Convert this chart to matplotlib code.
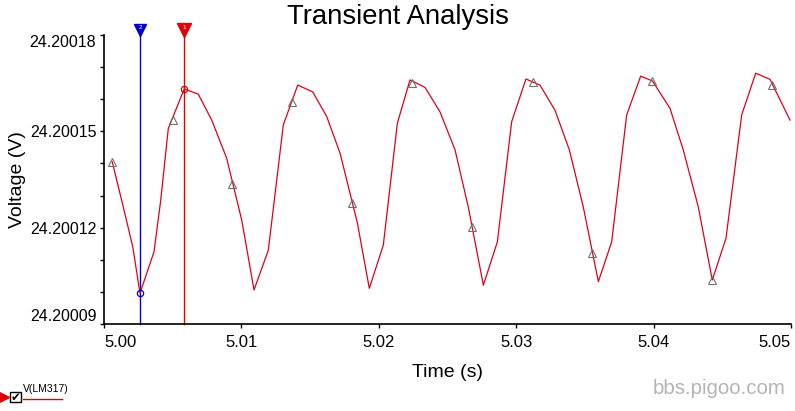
import matplotlib
matplotlib.use("Agg")
import matplotlib.pyplot as plt
from matplotlib.lines import Line2D
from matplotlib.patches import Rectangle
import matplotlib.transforms as mtransforms

plt.rcParams['font.family'] = ['Liberation Sans', 'DejaVu Sans']

# V(LM317) simulation points
time_s = [5.00060, 5.00140, 5.00209, 5.00262, 5.00364, 5.00413, 5.00468, 5.00584,
          5.00686, 5.00784, 5.00893, 5.01002, 5.01092, 5.01196, 5.01305, 5.01410,
          5.01519, 5.01621, 5.01718, 5.01844, 5.01931, 5.02033, 5.02135, 5.02227,
          5.02336, 5.02445, 5.02555, 5.02651, 5.02761, 5.02863, 5.02967, 5.03071,
          5.03173, 5.03282, 5.03387, 5.03488, 5.03598, 5.03695, 5.03804, 5.03906,
          5.03991, 5.04119, 5.04216, 5.04325, 5.04427, 5.04527, 5.04641, 5.04743,
          5.04847, 5.04993]
volt_v = [24.2001405, 24.2001265, 24.2001141, 24.2000996, 24.2001125, 24.2001286,
          24.2001509, 24.2001632, 24.2001616, 24.2001535, 24.2001416, 24.2001224,
          24.2001006, 24.2001130, 24.2001520, 24.2001644, 24.2001623, 24.2001546,
          24.2001432, 24.2001215, 24.2001011, 24.2001146, 24.2001525, 24.2001660,
          24.2001637, 24.2001561, 24.2001442, 24.2001265, 24.2001021, 24.2001156,
          24.2001530, 24.2001663, 24.2001644, 24.2001566, 24.2001442, 24.2001265,
          24.2001032, 24.2001156, 24.2001551, 24.2001672, 24.2001657, 24.2001572,
          24.2001442, 24.2001265, 24.2001037, 24.2001167, 24.2001551, 24.2001681,
          24.2001662, 24.2001535]

# triangle markers on the trace
mark_t = [5.00060, 5.00500, 5.00934, 5.01371, 5.01803, 5.02244,
          5.02681, 5.03120, 5.03554, 5.03991, 5.04427, 5.04864]
mark_v = [24.2001405, 24.2001535, 24.2001336, 24.2001592, 24.2001276, 24.2001651,
          24.2001203, 24.2001653, 24.2001120, 24.2001657, 24.2001037, 24.2001644]

# cursors
cursor_t = [5.00584, 5.00262]
cursor_v = [24.2001632, 24.2000996]
cursor_names = ['1', '2']
cursor_colors = ['#e00000', '#0000c8']

x_ticks = [5.00, 5.01, 5.02, 5.03, 5.04, 5.05]
x_labels = ['5.00', '5.01', '5.02', '5.03', '5.04', '5.05']
y_ticks = [24.20009 + i * 0.00001 for i in range(10)]
y_labels = ['24.20009', '', '', '24.20012', '', '', '24.20015', '', '', '24.20018']

line_color = '#e0001b'

fig = plt.figure(figsize=(7.95, 4.11), dpi=100)
ax = fig.add_axes([104 / 795, 87 / 411, 687 / 795, 289 / 411])

ax.plot(time_s, volt_v, color=line_color, lw=0.9, zorder=3)
ax.plot(mark_t, mark_v, ls='none', marker='^', markersize=5.5, mfc='none',
        mec='#707070', mew=0.8, zorder=4)

trans = mtransforms.blended_transform_factory(ax.transData, ax.transAxes)
sizes = [10, 8]
for t, v, name, c, s in zip(cursor_t, cursor_v, cursor_names, cursor_colors, sizes):
    ax.plot([t, t], [0, 1.02], color=c, lw=1.0, transform=trans, clip_on=False, zorder=2)
    ax.plot([t], [1.018], marker='v', markersize=s, color=c, transform=trans,
            clip_on=False, zorder=5)
    ax.text(t, 1.025, name, color='white', fontsize=4.5, ha='center', va='center',
            transform=trans, clip_on=False, zorder=6)
    ax.plot([t], [v], marker='o', markersize=4.5, mfc='none', mec=c, mew=0.9, zorder=6)

ax.set_xlim(5.00, 5.05)
ax.set_ylim(24.20009, 24.20018)
ax.set_xticks(x_ticks)
ax.set_xticklabels(x_labels)
ax.set_yticks(y_ticks)
ax.set_yticklabels(y_labels)

for side in ['top', 'right']:
    ax.spines[side].set_visible(False)
for side in ['left', 'bottom']:
    ax.spines[side].set_linewidth(1.2)
ax.tick_params(axis='both', direction='out', length=3, width=1.0, labelsize=12,
               pad=5)
ax.tick_params(axis='y', labelsize=11.5, pad=2.5)

xl = ax.get_xticklabels()
xl[0].set_ha('left')
xl[-1].set_ha('right')
yl = ax.get_yticklabels()
yl[0].set_va('bottom')
yl[-1].set_va('top')

fig.text(0.5, 1 - 17 / 411, 'Transient Analysis', fontsize=19.8, ha='center',
         va='center')
ax.set_xlabel('Time (s)', fontsize=14, labelpad=10)
ax.set_ylabel('Voltage (V)', fontsize=14)
ax.yaxis.set_label_coords(-0.1135, 0.5)

# legend box at bottom-left
fig.add_artist(Line2D([3 / 795], [1 - 397 / 411], marker='>', markersize=8,
                      color='#e00000', transform=fig.transFigure))
fig.add_artist(Rectangle((10 / 795, 1 - 402 / 411), 10.5 / 795, 10.5 / 411, fill=False,
                         lw=1.0, ec='black', transform=fig.transFigure))
fig.text(15.5 / 795, 1 - 397 / 411, '\u2714', fontsize=8.5, ha='center', va='center',
         family='DejaVu Sans')
fig.text(23 / 795, 1 - 389 / 411, 'V(LM317)', fontsize=7.5, ha='left', va='center')
fig.add_artist(Line2D([23 / 795, 62 / 795], [1 - 399 / 411, 1 - 399 / 411],
                      color='#e00000', lw=1.0, transform=fig.transFigure))

fig.text(786 / 795, 1 - 388 / 411, 'bbs.pigoo.com', fontsize=14.7, color='#b4b4b4',
         ha='right', va='center')

fig.savefig('out.png', dpi=100)
